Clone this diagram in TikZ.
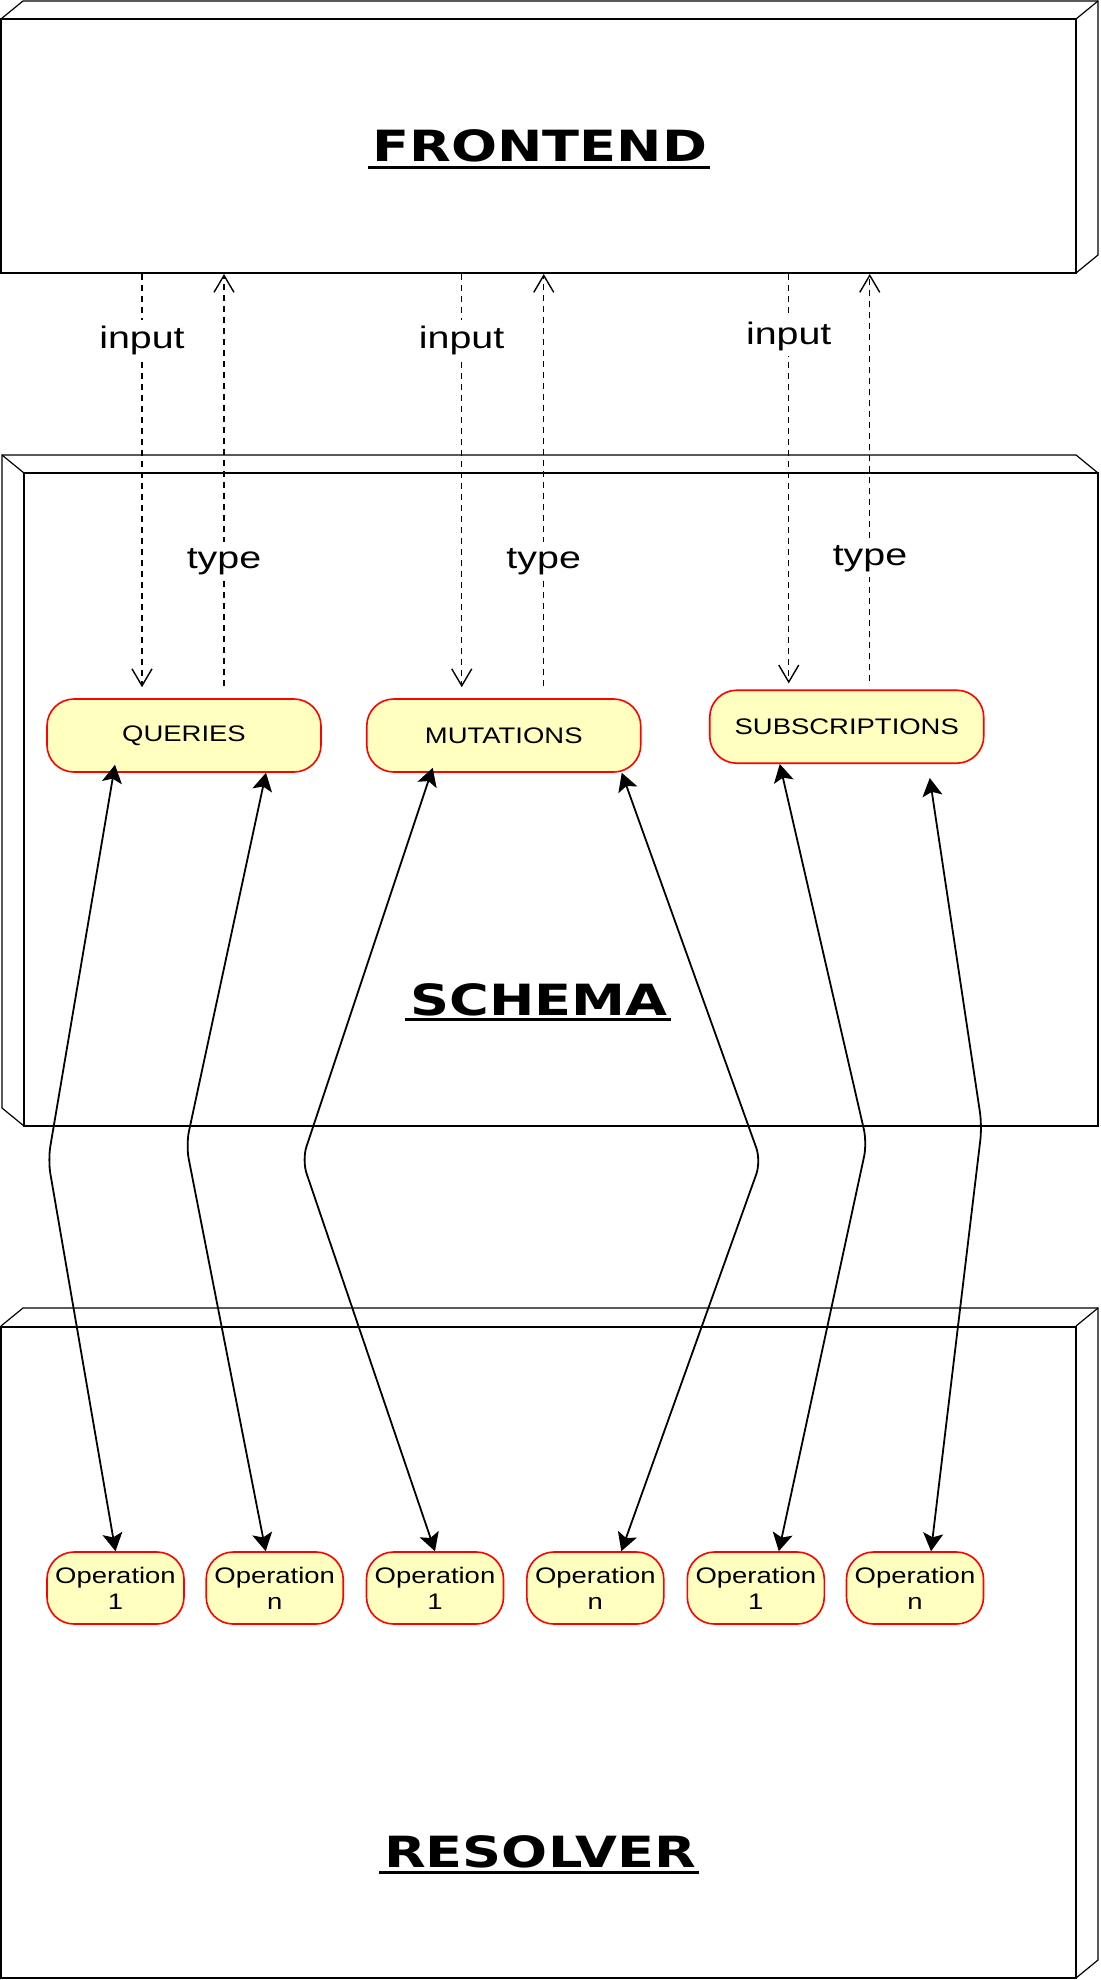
\documentclass[tikz,border=0pt]{standalone}
\usepackage{fontspec}
\usetikzlibrary{arrows.meta}
\newfontfamily\titlefont[FakeStretch=1.26]{DejaVu Sans}
\newfontfamily\lblfont[FakeStretch=1.27]{Liberation Sans}
\newfontfamily\boxfont[FakeStretch=1.22]{Liberation Sans}
\definecolor{nodefill}{HTML}{FFFFC0}
\definecolor{nodeline}{HTML}{FF0000}
\begin{document}
\begin{tikzpicture}[x=1pt,y=-1pt,
  face/.style={draw, line width=2pt, fill=white, inner sep=0pt},
  backedge/.style={line width=1.2pt, line join=miter},
  title/.style={inner sep=0pt, anchor=base, font=\titlefont\bfseries\fontsize{43}{50}\selectfont},
  uline/.style={line width=3pt},
  state/.style={draw=nodeline, fill=nodefill, line width=1.6pt, rounded corners=27pt,
    minimum width=274pt, minimum height=73pt, inner sep=0pt,
    font=\boxfont\fontsize{22.5}{26}\selectfont},
  opnode/.style={state, minimum width=137pt, minimum height=72pt, align=center},
  dasharr/.style={line width=1.4pt, dash pattern=on 6pt off 5pt,
    -{Straight Barb[length=17pt,width=20pt]}},
  biarr/.style={line width=1.8pt, rounded corners=14pt,
    {Stealth[length=18pt,width=20pt,inset=4pt]}-{Stealth[length=18pt,width=20pt,inset=4pt]}},
  lbl/.style={fill=white, inner xsep=2pt, inner ysep=6pt, anchor=base,
    font=\lblfont\fontsize{31}{36}\selectfont}
]
\useasboundingbox (0,0) rectangle (1100,1980);
\fill[white] (0,0) rectangle (1100,1980);

% FRONTEND cube
\draw[backedge] (1,19) -- (23,1) -- (1098,1) -- (1098,255) -- (1076,273);
\draw[backedge] (1076,19) -- (1098,1);
\node[face, minimum width=1075pt, minimum height=254pt] (fe) at (538.5,146) {};
\node[title] (tfe) at (540,161.7) {FRONTEND};
\draw[uline] ([xshift=-5pt,yshift=-5.5pt]tfe.base west) -- ([xshift=3pt,yshift=-5.5pt]tfe.base east);

% SCHEMA cube
\draw[backedge] (24,1126) -- (2,1108) -- (2,455) -- (1076,455) -- (1098,473);
\draw[backedge] (24,473) -- (2,455);
\node[face, minimum width=1074pt, minimum height=653pt] (sc) at (561,799.5) {};
\node[title] (tsc) at (539,1015.3) {SCHEMA};
\draw[uline] ([xshift=-5pt,yshift=-4.5pt]tsc.base west) -- ([xshift=3pt,yshift=-4.5pt]tsc.base east);

% RESOLVER cube
\draw[backedge] (1,1326) -- (23,1308) -- (1098,1308) -- (1098,1960) -- (1076,1978);
\draw[backedge] (1076,1326) -- (1098,1308);
\node[face, minimum width=1075pt, minimum height=651pt] (rs) at (538.5,1652) {};
\node[title] (trs) at (540,1867.3) {RESOLVER};
\draw[uline] ([xshift=-5pt,yshift=-5.5pt]trs.base west) -- ([xshift=3pt,yshift=-5.5pt]trs.base east);

% schema states
\node[state] (q) at (184,735.5) {QUERIES};
\node[state] (m) at (503.75,735.5) {MUTATIONS};
\node[state] (s) at (846.75,726.7) {SUBSCRIPTIONS};

% operations
\node[opnode] (qo1) at (115.5,1588) {Operation\\1};
\node[opnode] (qon) at (274.7,1588) {Operation\\n};
\node[opnode] (mo1) at (435,1588) {Operation\\1};
\node[opnode] (mon) at (595.3,1588) {Operation\\n};
\node[opnode] (so1) at (755.8,1588) {Operation\\1};
\node[opnode] (son) at (915,1588) {Operation\\n};

% dashed input / type arrows
\draw[dasharr] ([xshift=-42pt]q.north |- fe.south) -- ([xshift=-42pt,yshift=11pt]q.north);
\draw[dasharr] ([xshift=40pt,yshift=12pt]q.north) -- ([xshift=40pt]q.north |- fe.south);
\draw[dasharr] ([xshift=-42pt]m.north |- fe.south) -- ([xshift=-42pt,yshift=11pt]m.north);
\draw[dasharr] ([xshift=40pt,yshift=12pt]m.north) -- ([xshift=40pt]m.north |- fe.south);
\draw[dasharr] ([xshift=-58pt]s.north |- fe.south) -- ([xshift=-58pt,yshift=6pt]s.north);
\draw[dasharr] ([xshift=23pt,yshift=8pt]s.north) -- ([xshift=23pt]s.north |- fe.south);

\node[lbl] (qin) at (142,348) {input};
\node[lbl] (qty) at (224,568) {type};
\node[lbl] (min) at (461.6,348) {input};
\node[lbl] (mty) at (543.7,568) {type};
\node[lbl] (sin) at (788.7,344) {input};
\node[lbl] (sty) at (870,565) {type};

% resolver links
\draw[biarr] ([xshift=-69pt,yshift=8pt]q.south) -- (48,1160) -- (qo1.north);
\draw[biarr] ([xshift=82pt]q.south) -- (186,1145) -- ([xshift=-9pt]qon.north);
\draw[biarr] ([xshift=-71pt,yshift=5pt]m.south) -- (302,1160) -- (mo1.north);
\draw[biarr] ([xshift=118pt]m.south) -- (761,1161) -- ([xshift=26pt]mon.north);
\draw[biarr] ([xshift=-67pt]s.south) -- (867,1143) -- ([xshift=23pt]so1.north);
\draw[biarr] ([xshift=83pt,yshift=-14pt]s.south) -- (982,1126) -- ([xshift=16pt]son.north);
\end{tikzpicture}
\end{document}
